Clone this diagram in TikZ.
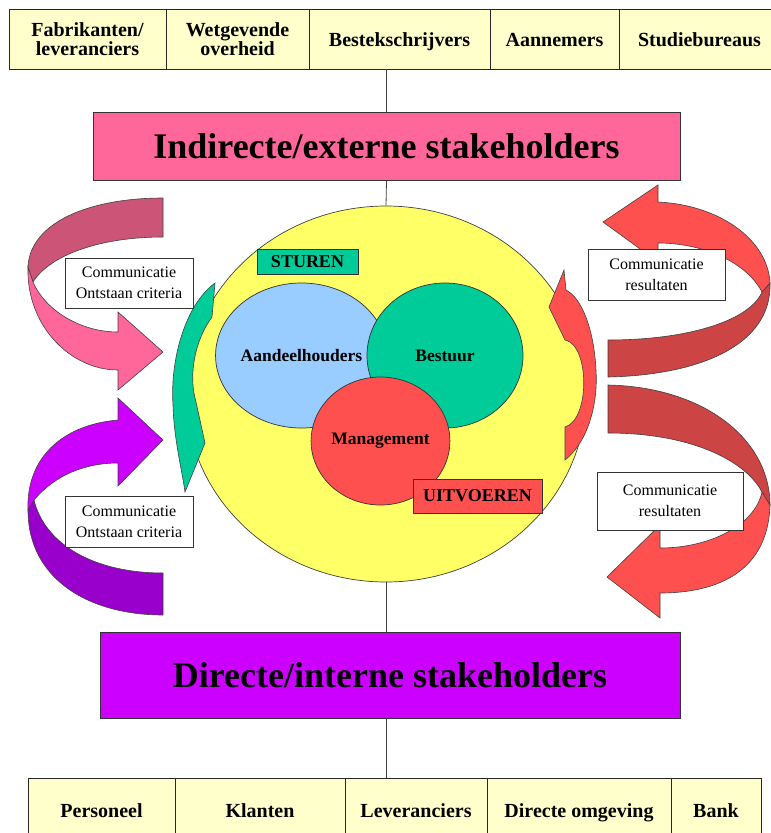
\documentclass[tikz,border=0pt]{standalone}
\usepackage{fontspec}
\setmainfont{Liberation Serif}
\usetikzlibrary{shapes.geometric}
\definecolor{rowy}{HTML}{FFFFCC}
\definecolor{pinkt}{HTML}{FF6699}
\definecolor{purp}{HTML}{CC00FF}
\definecolor{yel}{HTML}{FFFF66}
\definecolor{lblue}{HTML}{99CCFF}
\definecolor{tealg}{HTML}{00CC99}
\definecolor{redm}{HTML}{FF5050}
\definecolor{redd}{HTML}{CC4444}
\definecolor{pinkd}{HTML}{CC5577}
\definecolor{purpd}{HTML}{9900CC}
\begin{document}
\begin{tikzpicture}[x=1pt,y=-1pt,
  conn/.style={draw=black!75, line width=0.8pt},
  rowbox/.style={draw=black!85, line width=0.8pt, fill=rowy, inner sep=0pt, minimum height=60pt, align=center, font=\fontsize{20}{18.5}\selectfont\bfseries},
  oneline/.style={text height=17pt, text depth=2pt},
  twoline/.style={text height=34.5pt, text depth=2pt},
  botline/.style={text height=18pt, text depth=2pt, minimum height=62pt},
  bigbox/.style={draw=black!80, line width=0.8pt, inner sep=0pt, font=\fontsize{36}{40}\selectfont\bfseries},
  blob/.style={ellipse, draw=black!80, line width=0.7pt, inner sep=0pt, font=\fontsize{17.5}{20}\selectfont\bfseries},
  tag/.style={draw=black!80, line width=0.7pt, inner sep=0pt, font=\fontsize{18}{20}\selectfont\bfseries},
  commbox/.style={draw=black!80, line width=0.6pt, fill=white, align=center, inner sep=0pt, font=\fontsize{16}{21}\selectfont},
  arrowshape/.style={draw=black!75, line width=0.6pt}
]
\useasboundingbox (0,0) rectangle (771,833);
\clip (0,0) rectangle (771,833);

% top row
\node[rowbox, twoline, minimum width=157pt] (t1) at (87.5,39) {Fabrikanten/\\leveranciers};
\node[rowbox, twoline, minimum width=143pt] (t2) at (237.5,39) {Wetgevende\\overheid};
\node[rowbox, oneline, minimum width=181pt] (t3) at (399.5,39) {Bestekschrijvers};
\node[rowbox, oneline, minimum width=129pt] (t4) at (554.5,39) {Aannemers};
\node[rowbox, oneline, minimum width=161pt] (t5) at (699.5,39) {Studiebureaus};

% bottom row
\node[rowbox, botline, minimum width=147pt] (b1) at (101.5,809) {Personeel};
\node[rowbox, botline, minimum width=170pt] (b2) at (260,809) {Klanten};
\node[rowbox, botline, minimum width=142pt] (b3) at (416,809) {Leveranciers};
\node[rowbox, botline, minimum width=184pt] (b4) at (579,809) {Directe omgeving};
\node[rowbox, botline, minimum width=90pt] (b5) at (716,809) {Bank};

% title boxes
\node[bigbox, fill=pinkt, minimum width=587pt, minimum height=68pt] (title) at (386.5,146) {Indirecte/externe stakeholders};
\node[bigbox, fill=purp, minimum width=580pt, minimum height=86pt] (purple) at (390,675) {Directe/interne stakeholders};

% central ellipse
\node[ellipse, draw=black!75, line width=0.7pt, fill=yel, minimum width=400pt, minimum height=376pt, inner sep=0pt] (circ) at (386,394) {};

% connectors
\draw[conn] (title.north) -- (title.north |- t3.south);
\draw[conn] (title.south) -- (circ.north);
\draw[conn] (circ.south) -- (circ.south |- purple.north);
\draw[conn] (purple.south -| circ.south) -- (circ.south |- b3.north);

% inner circles
\node[blob, fill=lblue, minimum width=143pt, minimum height=145pt] (aand) at (301.5,355.5) {Aandeelhouders};
\node[blob, fill=tealg, minimum width=156pt, minimum height=145pt] (best) at (445,355.5) {Bestuur};
\node[blob, fill=redm, minimum width=137pt, minimum height=128pt] (man) at (380.5,441) {Management};

\node[tag, fill=tealg, minimum width=101pt, minimum height=25pt] (sturen) at (307.5,261.5) {STUREN};
\node[tag, fill=redm, minimum width=129pt, minimum height=34pt] (uitv) at (477.5,496) {UITVOEREN};

% side curved arrows
\path[arrowshape, fill=tealg] (215,283) .. controls (185,305) and (170,360) .. (173,405)
  .. controls (174,440) and (182,470) .. (185,492) -- (205,443) -- (196,402)
  .. controls (188,375) and (195,340) .. (212,317) -- cycle;
\path[arrowshape, fill=redm] (564,270) -- (549,307) -- (565,340)
  .. controls (590,345) and (590,420) .. (565,427) -- (565,460)
  .. controls (590,440) and (598,400) .. (596,370)
  .. controls (594,330) and (582,298) .. (566,290) -- cycle;

% top-left pink curl
\path[arrowshape, fill=pinkd] (163,198) .. controls (90,198) and (30,222) .. (28,267) -- (33,282)
  .. controls (50,255) and (100,237) .. (163,237) -- cycle;
\path[arrowshape, fill=pinkt] (28,267) .. controls (26,325) and (70,370) .. (118,370) -- (118,390)
  -- (163,352) -- (118,312) -- (118,332) .. controls (80,332) and (45,310) .. (33,282) -- cycle;

% bottom-left purple curl
\path[arrowshape, fill=purpd] (28,510) .. controls (28,580) and (90,615) .. (163,615) -- (163,573)
  .. controls (95,573) and (45,545) .. (34,500) -- cycle;
\path[arrowshape, fill=purp] (118,420) .. controls (60,425) and (26,460) .. (28,510) -- (34,500)
  .. controls (55,475) and (85,463) .. (118,463) -- (118,486) -- (163,440) -- (118,398) -- cycle;

% top-right red curl
\path[arrowshape, fill=redd] (770,283) .. controls (772,345) and (700,375) .. (608,377) -- (608,340)
  .. controls (690,340) and (750,320) .. (762,292) -- cycle;
\path[arrowshape, fill=redm] (658,202) .. controls (720,205) and (768,240) .. (770,283) -- (762,292)
  .. controls (745,260) and (700,243) .. (658,243) -- (658,262) -- (603,222) -- (658,185) -- cycle;

% bottom-right red curl
\path[arrowshape, fill=redd] (608,385) .. controls (705,387) and (770,440) .. (770,505) -- (762,492)
  .. controls (745,460) and (690,433) .. (608,433) -- cycle;
\path[arrowshape, fill=redm] (770,505) .. controls (768,570) and (720,593) .. (660,593) -- (660,618)
  -- (607,577) -- (660,525) -- (660,548) .. controls (710,548) and (755,525) .. (762,492) -- cycle;

% communication labels
\node[commbox, minimum width=128pt, minimum height=50pt] (cl1) at (129,283) {Communicatie\\Ontstaan criteria};
\node[commbox, minimum width=128pt, minimum height=51pt] (cl2) at (129,521.5) {Communicatie\\Ontstaan criteria};
\node[commbox, minimum width=137pt, minimum height=51pt] (cr1) at (656.5,274.5) {Communicatie\\resultaten};
\node[commbox, minimum width=146pt, minimum height=58pt] (cr2) at (670,501) {Communicatie\\resultaten};
\end{tikzpicture}
\end{document}
